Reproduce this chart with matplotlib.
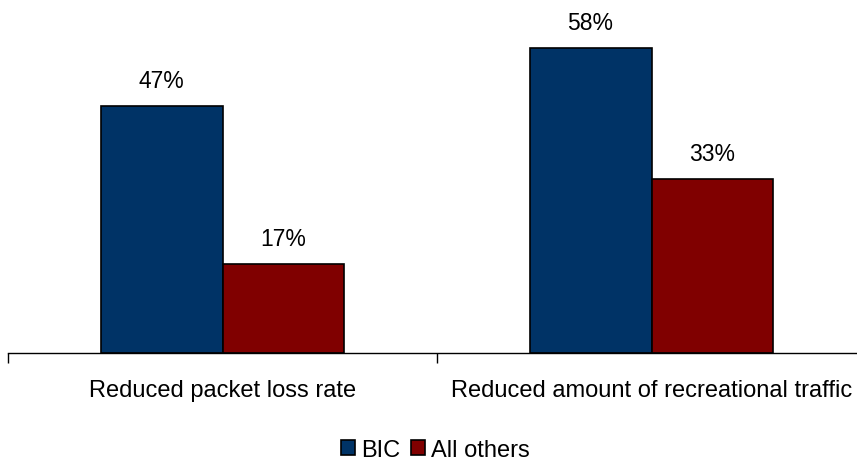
import numpy as np
import matplotlib
matplotlib.use('Agg')
import matplotlib.pyplot as plt

plt.rcParams['font.family'] = ['Liberation Sans', 'DejaVu Sans']

categories = ['Reduced packet loss rate', 'Reduced amount of recreational traffic']
series_names = ['BIC', 'All others']
bic = [47, 58]
others = [17, 33]
colors = ['#003366', '#800000']

W, H = 857, 464
fig = plt.figure(figsize=(W/100, H/100), dpi=100)

# axes box in pixels: left 8, baseline 354, width 858 (runs off the right edge)
ax = fig.add_axes([8/W, 1-354/H, 858/W, 354/H])

x = np.arange(len(categories))
bw = 0.284
b1 = ax.bar(x - bw/2, bic, bw, color=colors[0], edgecolor='black', linewidth=1.2, label=series_names[0])
b2 = ax.bar(x + bw/2, others, bw, color=colors[1], edgecolor='black', linewidth=1.2, label=series_names[1])

# value labels above bars
for bars, vals in [(b1, bic), (b2, others)]:
    for rect, v in zip(bars, vals):
        ax.annotate('%d%%' % v, xy=(rect.get_x() + rect.get_width()/2, v),
                    xytext=(0, 19), textcoords='offset pixels',
                    ha='center', va='baseline', fontsize=16.5)

ax.set_xlim(-0.5, 1.5)
ax.set_ylim(0, 354/5.26)
ax.set_yticks([])
for s in ['top', 'right', 'left']:
    ax.spines[s].set_visible(False)
ax.spines['bottom'].set_linewidth(1.0)

# ticks at category boundaries
ax.set_xticks([-0.5, 0.5, 1.5])
ax.set_xticklabels([])
ax.tick_params(axis='x', direction='out', length=7, width=1.0)

# category labels, baseline 43 px under the axis
for i, c in enumerate(categories):
    ax.annotate(c, xy=(x[i], 0), xycoords=('data', 'axes fraction'),
                xytext=(0, -43), textcoords='offset pixels',
                ha='center', va='baseline', fontsize=17, annotation_clip=False)

fig.legend(loc='center', bbox_to_anchor=(435.5/W, 1-451/H), ncol=2, frameon=False,
           fontsize=17, handlelength=0.59, handleheight=0.59, handletextpad=0.28,
           columnspacing=0.42, borderpad=0)

fig.savefig('out.png', dpi=100)
